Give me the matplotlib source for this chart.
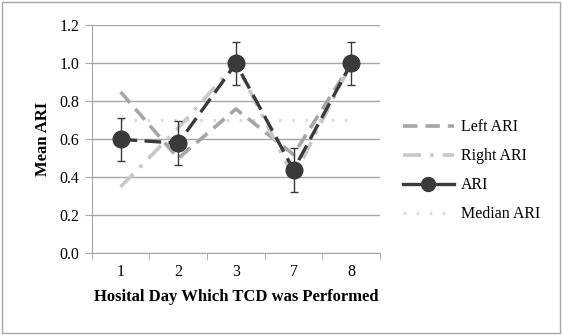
import matplotlib
matplotlib.use("Agg")
import matplotlib.pyplot as plt
from matplotlib.lines import Line2D
from matplotlib.patches import Rectangle

days = ["1", "2", "3", "7", "8"]
left_ari = [0.85, 0.50, 0.76, 0.52, 1.00]
right_ari = [0.35, 0.66, 1.00, 0.40, 1.00]
ari = [0.60, 0.58, 1.00, 0.44, 1.00]
ari_err = [0.115, 0.115, 0.115, 0.115, 0.115]
median_ari = [0.70, 0.70, 0.70, 0.70, 0.70]
yticks = [0.0, 0.2, 0.4, 0.6, 0.8, 1.0, 1.2]

plt.rcParams['font.family'] = ['Liberation Serif', 'DejaVu Serif']

fig = plt.figure(figsize=(5.63, 3.35), dpi=100)
ax = fig.add_axes([0.163, 0.244, 0.512, 0.68])
x = list(range(len(days)))

ax.plot(x, left_ari, color='#a6a6a6', lw=2.6, dashes=(4, 2.2), label='Left ARI', zorder=3)
ax.plot(x, right_ari, color='#c8c8c8', lw=2.6, dashes=(5, 2.5, 1, 2.5), label='Right ARI', zorder=3)
ax.plot(x, median_ari, color='#d9d9d9', lw=2.2, dashes=(0.8, 3.5), label='Median ARI', zorder=2)
ax.errorbar(x, ari, yerr=ari_err, color='#3a3a3a', lw=2.4, dashes=(5, 2.2),
            marker='o', ms=12, capsize=3, elinewidth=1.0, ecolor='#3a3a3a', capthick=1.0,
            label='ARI', zorder=4)

ax.set_xlim(-0.5, len(days) - 0.5)
ax.set_ylim(0, 1.2)
ax.set_yticks(yticks)
ax.set_yticklabels([f"{v:.1f}" for v in yticks], fontsize=11.5)
ax.set_xticks(x)
ax.set_xticklabels(days, fontsize=11.5)
ax.set_xticks([i - 0.5 for i in range(len(days) + 1)], minor=True)
ax.tick_params(axis='x', which='major', length=0, pad=8)
ax.tick_params(axis='x', which='minor', length=5, color='#a6a6a6')
ax.tick_params(axis='y', length=5, color='#a6a6a6', pad=4)
ax.grid(axis='y', color='#a6a6a6', lw=1.0)
ax.set_axisbelow(True)
for s in ['top', 'right']:
    ax.spines[s].set_visible(False)
for s in ['left', 'bottom']:
    ax.spines[s].set_color('#a6a6a6')
ax.set_ylabel('Mean ARI', fontsize=12, fontweight='bold', labelpad=6)
ax.set_xlabel('Hosital Day Which TCD was Performed', fontsize=12, fontweight='bold', labelpad=6)

handles = [
    Line2D([], [], color='#a6a6a6', lw=2.6, dashes=(4, 2.2)),
    Line2D([], [], color='#c8c8c8', lw=2.6, dashes=(5, 2.5, 1, 2.5)),
    Line2D([], [], color='#3a3a3a', lw=2.4, marker='o', ms=10),
    Line2D([], [], color='#d9d9d9', lw=2.2, dashes=(0.8, 3.5)),
]
labels = ['Left ARI', 'Right ARI', 'ARI', 'Median ARI']
fig.legend(handles, labels, loc='center left', bbox_to_anchor=(0.69, 0.49), frameon=False,
           fontsize=11.5, handlelength=3.2, labelspacing=0.82, handletextpad=0.45)

fig.patches.append(Rectangle((0.004, 0.006), 0.99, 0.988, transform=fig.transFigure,
                             fill=False, edgecolor='#a6a6a6', lw=1.0))
fig.savefig('out.png', dpi=100)
